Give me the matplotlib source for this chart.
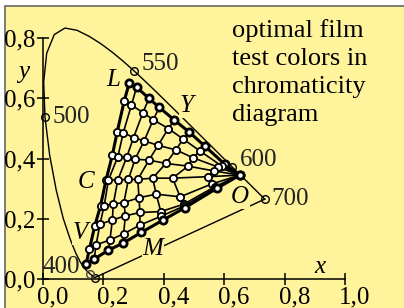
import matplotlib.pyplot as plt
import numpy as np
from matplotlib.patches import Rectangle

plt.rcParams['font.family'] = ['Liberation Serif', 'DejaVu Serif']

# CIE 1931 spectral locus, 380..700 nm in 5 nm steps
wavelengths = list(range(380, 705, 5))
locus_x = [0.1741, 0.1740, 0.1738, 0.1736, 0.1733, 0.1730, 0.1726, 0.1721, 0.1714, 0.1703,
           0.1689, 0.1669, 0.1644, 0.1611, 0.1566, 0.1510, 0.1440, 0.1355, 0.1241, 0.1096,
           0.0913, 0.0687, 0.0454, 0.0235, 0.0082, 0.0039, 0.0139, 0.0389, 0.0743, 0.1142,
           0.1547, 0.1929, 0.2296, 0.2658, 0.3016, 0.3373, 0.3731, 0.4087, 0.4441, 0.4788,
           0.5125, 0.5448, 0.5752, 0.6029, 0.6270, 0.6482, 0.6658, 0.6801, 0.6915, 0.7006,
           0.7079, 0.7140, 0.7190, 0.7230, 0.7260, 0.7283, 0.7300, 0.7311, 0.7320, 0.7327,
           0.7334, 0.7340, 0.7344, 0.7346, 0.7347]
locus_y = [0.0050, 0.0050, 0.0049, 0.0049, 0.0048, 0.0048, 0.0048, 0.0048, 0.0051, 0.0058,
           0.0069, 0.0086, 0.0109, 0.0138, 0.0177, 0.0227, 0.0297, 0.0399, 0.0578, 0.0868,
           0.1327, 0.2007, 0.2950, 0.4127, 0.5384, 0.6548, 0.7502, 0.8120, 0.8338, 0.8262,
           0.8059, 0.7816, 0.7543, 0.7243, 0.6923, 0.6589, 0.6245, 0.5896, 0.5547, 0.5202,
           0.4866, 0.4544, 0.4242, 0.3965, 0.3725, 0.3514, 0.3340, 0.3197, 0.3083, 0.2993,
           0.2920, 0.2859, 0.2809, 0.2770, 0.2740, 0.2717, 0.2700, 0.2689, 0.2680, 0.2673,
           0.2666, 0.2660, 0.2656, 0.2654, 0.2653]
marked_nm = [400, 500, 550, 600, 700]
marked_offsets = [(-15, 11), (8, 0), (8, 7), (8, 7), (7, 0)]

# test colour mesh: rows run from the L-V edge towards O
grid_x = [
    [0.287, 0.311, 0.352, 0.386, 0.436, 0.485, 0.536, 0.603, 0.652],
    [0.270, 0.294, 0.332, 0.366, 0.416, 0.465, 0.521, 0.593, 0.652],
    [0.247, 0.267, 0.301, 0.336, 0.382, 0.441, 0.497, 0.580, 0.652],
    [0.231, 0.249, 0.278, 0.306, 0.352, 0.408, 0.481, 0.567, 0.652],
    [0.210, 0.218, 0.249, 0.284, 0.315, 0.364, 0.430, 0.546, 0.652],
    [0.192, 0.204, 0.234, 0.269, 0.319, 0.376, 0.455, 0.560, 0.652],
    [0.173, 0.190, 0.231, 0.274, 0.322, 0.391, 0.468, 0.570, 0.652],
    [0.155, 0.177, 0.223, 0.268, 0.322, 0.393, 0.469, 0.574, 0.652],
    [0.144, 0.171, 0.218, 0.266, 0.327, 0.397, 0.471, 0.576, 0.652],
]
grid_y = [
    [0.652, 0.637, 0.600, 0.570, 0.528, 0.488, 0.442, 0.381, 0.345],
    [0.591, 0.578, 0.553, 0.529, 0.500, 0.465, 0.425, 0.375, 0.345],
    [0.489, 0.486, 0.470, 0.459, 0.444, 0.429, 0.403, 0.372, 0.345],
    [0.412, 0.406, 0.404, 0.398, 0.395, 0.384, 0.375, 0.359, 0.345],
    [0.329, 0.329, 0.329, 0.331, 0.331, 0.335, 0.335, 0.340, 0.345],
    [0.244, 0.244, 0.249, 0.254, 0.270, 0.282, 0.273, 0.316, 0.345],
    [0.177, 0.182, 0.196, 0.210, 0.221, 0.224, 0.249, 0.307, 0.345],
    [0.099, 0.113, 0.130, 0.150, 0.179, 0.209, 0.243, 0.304, 0.345],
    [0.050, 0.066, 0.096, 0.119, 0.155, 0.195, 0.237, 0.301, 0.345],
]

letters = ['L', 'Y', 'O', 'M', 'V', 'C']
letter_x = [0.234, 0.477, 0.653, 0.366, 0.124, 0.144]
letter_y = [0.661, 0.575, 0.273, 0.100, 0.152, 0.323]

yellow = '#fff39b'

fig = plt.figure(figsize=(4.04, 3.08), dpi=100)
fig.patches.append(Rectangle((5 / 404, -0.01), 1.0, 1.01 - 6 / 308,
                             transform=fig.transFigure, facecolor=yellow,
                             edgecolor='#666666', linewidth=1.2, zorder=-5))
ax = fig.add_axes([0, 0, 1, 1])
ax.set_zorder(2)
ax.patch.set_visible(False)
ax.set_xlim(-0.1405, 1.195)
ax.set_ylim(-0.0963, 0.9269)

for s in ['top', 'right']:
    ax.spines[s].set_visible(False)
ax.spines['left'].set_position(('data', 0))
ax.spines['bottom'].set_position(('data', 0))
ax.spines['left'].set_bounds(0, 0.8)
ax.spines['bottom'].set_bounds(0, 1.0)
ax.spines['left'].set_linewidth(1.1)
ax.spines['bottom'].set_linewidth(1.1)

xt = [0.0, 0.2, 0.4, 0.6, 0.8, 1.0]
yt = [0.0, 0.2, 0.4, 0.6, 0.8]
ax.set_xticks(xt)
ax.set_yticks(yt)
ax.set_xticklabels([])
ax.set_yticklabels([])
ax.tick_params(direction='inout', length=9, width=1.1)
fs = 18
for v in xt:
    ax.annotate(f'{v:.1f}'.replace('.', ','), (v, 0), xytext=(-6, -7),
                textcoords='offset pixels', ha='left', va='top', fontsize=fs)
for v in yt:
    ax.annotate(f'{v:.1f}'.replace('.', ','), (0, v), xytext=(-7, 0),
                textcoords='offset pixels', ha='right', va='center_baseline', fontsize=fs)

ax.text(0.917, 0.041, 'x', style='italic', fontsize=fs, ha='center', va='center')
ax.text(-0.063, 0.689, 'y', style='italic', fontsize=fs, ha='center', va='center')

# spectral locus and purple line
ax.plot(locus_x, locus_y, color='black', lw=1.0, zorder=2)
ax.plot([locus_x[4], locus_x[-1]], [locus_y[4], locus_y[-1]], color='black', lw=1.0, zorder=2)
for nm, (dx, dy) in zip(marked_nm, marked_offsets):
    i = wavelengths.index(nm)
    ax.plot(locus_x[i], locus_y[i], 'o', ms=5.5, mfc='none', mec='black', mew=1.0, zorder=3)
    ax.annotate(str(nm), (locus_x[i], locus_y[i]), xytext=(dx, dy),
                textcoords='offset pixels', ha='right' if dx < 0 else 'left',
                va='center', fontsize=fs, color='#222222')
i450 = wavelengths.index(450)
ax.plot(locus_x[i450], locus_y[i450], 'o', ms=5.5, mfc='none', mec='#444444', mew=1.0, zorder=3)

gx = np.array(grid_x)
gy = np.array(grid_y)
n = gx.shape[0]
for i in range(n):
    lw = 2.2 if i in (0, n - 1) else 1.2
    ax.plot(gx[i], gy[i], color='black', lw=lw, zorder=4)
for j in range(gx.shape[1]):
    lw = 2.2 if j == 0 else 1.2
    ax.plot(gx[:, j], gy[:, j], color='black', lw=lw, zorder=4)
for i in range(n):
    edge = i in (0, n - 1)
    ax.plot(gx[i], gy[i], 'o', ms=5.2, mfc='white', mec='black',
            mew=2.0 if edge else 1.3, ls='none', zorder=5)

for t, x, y in zip(letters, letter_x, letter_y):
    ax.text(x, y, t, style='italic', fontsize=18, ha='center', va='center', zorder=6,
            bbox=dict(facecolor=yellow, edgecolor='none', pad=0.5))

fig.text(232 / 404, 1 - 19 / 308, 'optimal film\ntest colors in\nchromaticity\ndiagram',
         ha='left', va='top', fontsize=19, linespacing=1.36)

fig.savefig('out.png', dpi=100)
